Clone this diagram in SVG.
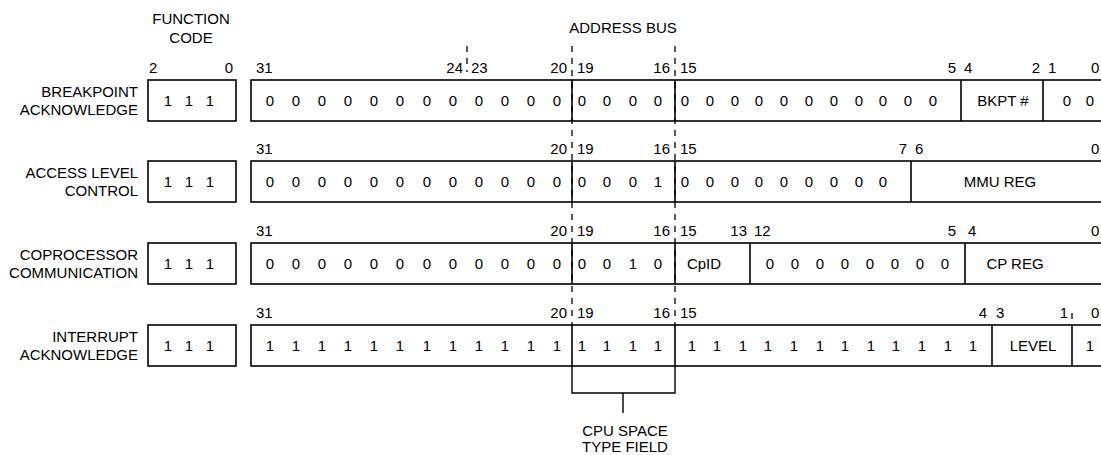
<svg xmlns="http://www.w3.org/2000/svg" width="1101" height="455" viewBox="0 0 1101 455">
<style>
text{font-family:"Liberation Sans",Arial,sans-serif;fill:#000}
.h{font-size:15px;text-anchor:middle}
.r{font-size:15px;text-anchor:end}
.n{font-size:15px}
.ne{font-size:15px;text-anchor:end}
.d{font-size:15px;text-anchor:middle}
.box{fill:none;stroke:#000;stroke-width:1.6}
.div{stroke:#000;stroke-width:1.6}
.dash{stroke:#000;stroke-width:1.3;stroke-dasharray:6 6;fill:none}
.br{stroke:#000;stroke-width:1.4;fill:none}
</style>
<rect width="1101" height="455" fill="#fff"/>

<g id="header">
<text class="h" x="191" y="24">FUNCTION</text>
<text class="h" x="191" y="43">CODE</text>
<text class="h" x="623" y="33">ADDRESS BUS</text>
</g>

<g id="row-breakpoint">
<text class="r" x="138" y="97">BREAKPOINT</text>
<text class="r" x="138" y="115">ACKNOWLEDGE</text>
<text class="n" x="149" y="73">2</text>
<text class="ne" x="233" y="73">0</text>
<rect class="box" x="148" y="80" width="88" height="41"/>
<text class="d" x="168" y="106">1</text><text class="d" x="189" y="106">1</text><text class="d" x="210" y="106">1</text>
<text class="n" x="256" y="73">31</text>
<text class="ne" x="463" y="73">24</text><text class="n" x="471" y="73">23</text>
<text class="ne" x="567" y="73">20</text><text class="n" x="577" y="73">19</text>
<text class="ne" x="670" y="73">16</text><text class="n" x="680" y="73">15</text>
<text class="ne" x="956" y="73">5</text><text class="n" x="964" y="73">4</text>
<text class="ne" x="1040" y="73">2</text><text class="n" x="1048" y="73">1</text>
<text class="n" x="1091" y="73">0</text>
<rect class="box" x="251" y="80" width="870" height="41"/>
<line class="div" x1="572" y1="80" x2="572" y2="121"/>
<line class="div" x1="675" y1="80" x2="675" y2="121"/>
<line class="div" x1="961" y1="80" x2="961" y2="121"/>
<line class="div" x1="1043" y1="80" x2="1043" y2="121"/>
<text class="d" x="270" y="106">0</text><text class="d" x="296" y="106">0</text><text class="d" x="322" y="106">0</text><text class="d" x="348" y="106">0</text><text class="d" x="374" y="106">0</text><text class="d" x="400" y="106">0</text><text class="d" x="427" y="106">0</text><text class="d" x="453" y="106">0</text><text class="d" x="479" y="106">0</text><text class="d" x="505" y="106">0</text><text class="d" x="531" y="106">0</text><text class="d" x="557" y="106">0</text>
<text class="d" x="582" y="106">0</text><text class="d" x="607" y="106">0</text><text class="d" x="633" y="106">0</text><text class="d" x="658" y="106">0</text>
<text class="d" x="685" y="106">0</text><text class="d" x="710" y="106">0</text><text class="d" x="735" y="106">0</text><text class="d" x="759" y="106">0</text><text class="d" x="784" y="106">0</text><text class="d" x="809" y="106">0</text><text class="d" x="834" y="106">0</text><text class="d" x="859" y="106">0</text><text class="d" x="883" y="106">0</text><text class="d" x="908" y="106">0</text><text class="d" x="933" y="106">0</text>
<text class="d" x="1003" y="106">BKPT #</text>
<text class="d" x="1067" y="106">0</text><text class="d" x="1090" y="106">0</text>
</g>

<g id="row-access">
<text class="r" x="138" y="178">ACCESS LEVEL</text>
<text class="r" x="138" y="196">CONTROL</text>
<rect class="box" x="148" y="161" width="88" height="41"/>
<text class="d" x="168" y="187">1</text><text class="d" x="189" y="187">1</text><text class="d" x="210" y="187">1</text>
<text class="n" x="256" y="154">31</text>
<text class="ne" x="567" y="154">20</text><text class="n" x="577" y="154">19</text>
<text class="ne" x="670" y="154">16</text><text class="n" x="680" y="154">15</text>
<text class="ne" x="907" y="154">7</text><text class="n" x="915" y="154">6</text>
<text class="n" x="1091" y="154">0</text>
<rect class="box" x="251" y="161" width="870" height="41"/>
<line class="div" x1="572" y1="161" x2="572" y2="202"/>
<line class="div" x1="675" y1="161" x2="675" y2="202"/>
<line class="div" x1="911" y1="161" x2="911" y2="202"/>
<text class="d" x="270" y="187">0</text><text class="d" x="296" y="187">0</text><text class="d" x="322" y="187">0</text><text class="d" x="348" y="187">0</text><text class="d" x="374" y="187">0</text><text class="d" x="400" y="187">0</text><text class="d" x="427" y="187">0</text><text class="d" x="453" y="187">0</text><text class="d" x="479" y="187">0</text><text class="d" x="505" y="187">0</text><text class="d" x="531" y="187">0</text><text class="d" x="557" y="187">0</text>
<text class="d" x="582" y="187">0</text><text class="d" x="607" y="187">0</text><text class="d" x="633" y="187">0</text><text class="d" x="658" y="187">1</text>
<text class="d" x="685" y="187">0</text><text class="d" x="710" y="187">0</text><text class="d" x="735" y="187">0</text><text class="d" x="759" y="187">0</text><text class="d" x="784" y="187">0</text><text class="d" x="809" y="187">0</text><text class="d" x="834" y="187">0</text><text class="d" x="859" y="187">0</text><text class="d" x="883" y="187">0</text>
<text class="d" x="1000" y="187">MMU REG</text>
</g>

<g id="row-coprocessor">
<text class="r" x="138" y="260">COPROCESSOR</text>
<text class="r" x="138" y="278">COMMUNICATION</text>
<rect class="box" x="148" y="243" width="88" height="41"/>
<text class="d" x="168" y="269">1</text><text class="d" x="189" y="269">1</text><text class="d" x="210" y="269">1</text>
<text class="n" x="256" y="236">31</text>
<text class="ne" x="567" y="236">20</text><text class="n" x="577" y="236">19</text>
<text class="ne" x="670" y="236">16</text><text class="n" x="680" y="236">15</text>
<text class="ne" x="747" y="236">13</text><text class="n" x="754" y="236">12</text>
<text class="ne" x="956" y="236">5</text><text class="n" x="968" y="236">4</text>
<text class="n" x="1091" y="236">0</text>
<rect class="box" x="251" y="243" width="870" height="41"/>
<line class="div" x1="572" y1="243" x2="572" y2="284"/>
<line class="div" x1="675" y1="243" x2="675" y2="284"/>
<line class="div" x1="750" y1="243" x2="750" y2="284"/>
<line class="div" x1="965" y1="243" x2="965" y2="284"/>
<text class="d" x="270" y="269">0</text><text class="d" x="296" y="269">0</text><text class="d" x="322" y="269">0</text><text class="d" x="348" y="269">0</text><text class="d" x="374" y="269">0</text><text class="d" x="400" y="269">0</text><text class="d" x="427" y="269">0</text><text class="d" x="453" y="269">0</text><text class="d" x="479" y="269">0</text><text class="d" x="505" y="269">0</text><text class="d" x="531" y="269">0</text><text class="d" x="557" y="269">0</text>
<text class="d" x="582" y="269">0</text><text class="d" x="607" y="269">0</text><text class="d" x="633" y="269">1</text><text class="d" x="658" y="269">0</text>
<text class="d" x="704" y="269">CpID</text>
<text class="d" x="770" y="269">0</text><text class="d" x="795" y="269">0</text><text class="d" x="820" y="269">0</text><text class="d" x="845" y="269">0</text><text class="d" x="870" y="269">0</text><text class="d" x="895" y="269">0</text><text class="d" x="920" y="269">0</text><text class="d" x="945" y="269">0</text>
<text class="d" x="1015" y="269">CP REG</text>
</g>

<g id="row-interrupt">
<text class="r" x="138" y="342">INTERRUPT</text>
<text class="r" x="138" y="360">ACKNOWLEDGE</text>
<rect class="box" x="148" y="325" width="88" height="41"/>
<text class="d" x="168" y="351">1</text><text class="d" x="189" y="351">1</text><text class="d" x="210" y="351">1</text>
<text class="n" x="256" y="318">31</text>
<text class="ne" x="567" y="318">20</text><text class="n" x="577" y="318">19</text>
<text class="ne" x="670" y="318">16</text><text class="n" x="680" y="318">15</text>
<text class="ne" x="987" y="318">4</text><text class="n" x="996" y="318">3</text>
<text class="ne" x="1068" y="318">1</text>
<text class="n" x="1091" y="318">0</text>
<rect class="box" x="251" y="325" width="870" height="41"/>
<line class="div" x1="572" y1="325" x2="572" y2="366"/>
<line class="div" x1="675" y1="325" x2="675" y2="366"/>
<line class="div" x1="992" y1="325" x2="992" y2="366"/>
<line class="div" x1="1072" y1="325" x2="1072" y2="366"/>
<text class="d" x="270" y="351">1</text><text class="d" x="296" y="351">1</text><text class="d" x="322" y="351">1</text><text class="d" x="348" y="351">1</text><text class="d" x="374" y="351">1</text><text class="d" x="400" y="351">1</text><text class="d" x="427" y="351">1</text><text class="d" x="453" y="351">1</text><text class="d" x="479" y="351">1</text><text class="d" x="505" y="351">1</text><text class="d" x="531" y="351">1</text><text class="d" x="557" y="351">1</text>
<text class="d" x="582" y="351">1</text><text class="d" x="607" y="351">1</text><text class="d" x="633" y="351">1</text><text class="d" x="658" y="351">1</text>
<text class="d" x="692" y="351">1</text><text class="d" x="717" y="351">1</text><text class="d" x="743" y="351">1</text><text class="d" x="768" y="351">1</text><text class="d" x="794" y="351">1</text><text class="d" x="820" y="351">1</text><text class="d" x="845" y="351">1</text><text class="d" x="871" y="351">1</text><text class="d" x="896" y="351">1</text><text class="d" x="922" y="351">1</text><text class="d" x="948" y="351">1</text><text class="d" x="973" y="351">1</text>
<text class="d" x="1033" y="351">LEVEL</text>
<text class="d" x="1090" y="351">1</text>
</g>

<g id="cpu-space-type-field">
<text class="h" x="625" y="436">CPU SPACE</text>
<text class="h" x="625" y="452">TYPE FIELD</text>
</g>

<g id="connectors">
<line class="dash" x1="572" y1="46" x2="572" y2="325"/>
<line class="dash" x1="675" y1="46" x2="675" y2="325"/>
<line class="dash" x1="467" y1="46" x2="467" y2="72"/>
<line class="dash" x1="1072" y1="313" x2="1072" y2="325"/>
<path class="br" d="M572 366 V393 H675 V366 M623 393 V413"/>
</g>
</svg>
